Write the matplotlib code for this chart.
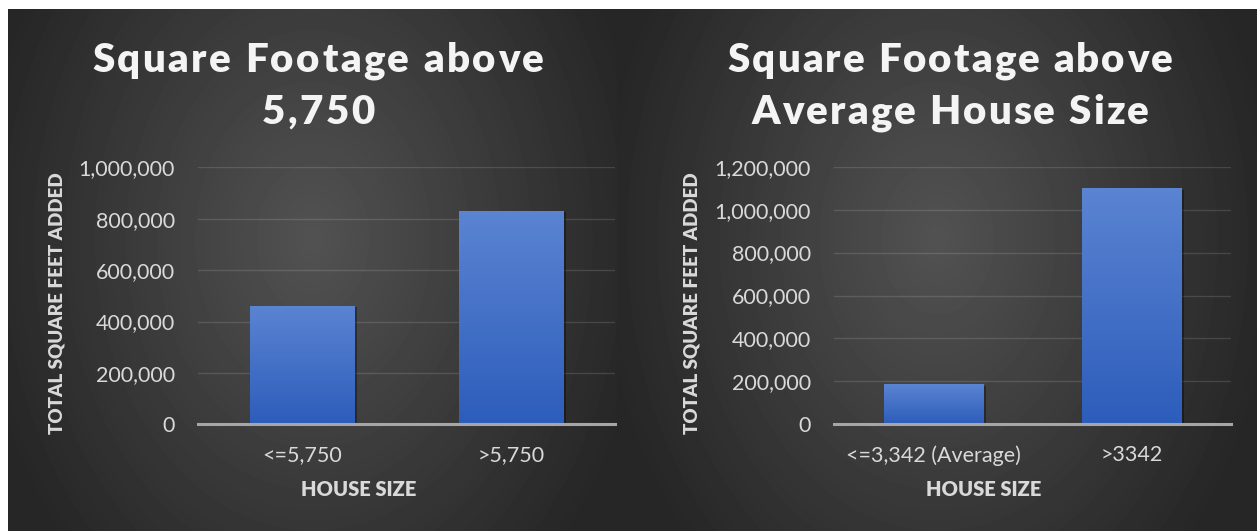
import numpy as np
import matplotlib
matplotlib.use("Agg")
import matplotlib.pyplot as plt
import matplotlib.patheffects as pe
from matplotlib import font_manager
from matplotlib.ft2font import FT2Font
from matplotlib.colors import LinearSegmentedColormap
from matplotlib.ticker import FuncFormatter

plt.rcParams['font.family'] = ['Lato', 'DejaVu Sans']

# 数据
left_cats = ['<=5,750', '>5,750']
left_vals = [460000, 830000]
left_ymax = 1000000
left_title = ['Square Footage above', '5,750']

right_cats = ['<=3,342 (Average)', '>3342']
right_vals = [186000, 1100000]
right_ymax = 1200000
right_title = ['Square Footage above', 'Average House Size']

y_label = 'TOTAL SQUARE FEET ADDED'
x_label = 'HOUSE SIZE'

W, H = 1259, 531
fig = plt.figure(figsize=(W / 100, H / 100), dpi=100)
fig.patch.set_facecolor('white')

bar_cmap = LinearSegmentedColormap.from_list('bar', ['#2d5dbb', '#5b84d2'])
title_fp = font_manager.FontProperties(family='Lato', weight='heavy', size=29)


def px_rect(x0, y0, x1, y1):
    # 像素坐标(左上为原点) -> figure 坐标
    return [x0 / W, 1 - y1 / H, (x1 - x0) / W, (y1 - y0) / H]


def panel_bg(x0, y0, x1, y1):
    # 径向渐变背景
    ax = fig.add_axes(px_rect(x0, y0, x1, y1))
    ax.set_axis_off()
    w, h = int(x1 - x0), int(y1 - y0)
    xx, yy = np.meshgrid(np.arange(w), np.arange(h))
    d = np.sqrt(((xx - w / 2) / 340) ** 2 + ((yy - h * 0.44) / 455) ** 2)
    t = np.clip(1 - d, 0, 1)
    c = (38 + t * (82 - 38)) / 255
    ax.imshow(c, cmap='gray', vmin=0, vmax=1, aspect='auto', interpolation='bilinear')


def advances(s):
    font = FT2Font(font_manager.findfont(title_fp))
    font.set_size(title_fp.get_size_in_points(), fig.dpi)
    return [font.load_char(ord(ch)).linearHoriAdvance / 65536 for ch in s]


def spaced_line(cx, base_y, s, track):
    # 标题字间距, matplotlib 没有 letter-spacing
    adv = advances(s)
    x = cx - (sum(adv) + track * (len(s) - 1)) / 2
    for ch, a in zip(s, adv):
        if ch != ' ':
            fig.text(x / W, 1 - base_y / H, ch, fontproperties=title_fp, color='#f4f4f4',
                     ha='left', va='baseline')
        x += a + track


def title_block(cx, lines, width):
    adv = advances(lines[0])
    track = (width - sum(adv)) / (len(lines[0]) - 1)
    spaced_line(cx, 72, lines[0], track)
    spaced_line(cx, 124, lines[1], track)


def draw_chart(rect, cats, vals, ymax):
    ax = fig.add_axes(rect)
    ax.set_facecolor('none')
    x = np.arange(len(cats))
    bars = ax.bar(x, vals, width=0.5, color='#4472c4', zorder=3)
    for b in bars:
        b.set_path_effects([pe.SimplePatchShadow(offset=(2, -1), shadow_rgbFace='black', alpha=0.35),
                            pe.Normal()])
        grad = np.linspace(0, 1, 256).reshape(-1, 1)
        im = ax.imshow(grad, cmap=bar_cmap, origin='lower', aspect='auto', zorder=3.2,
                       extent=[b.get_x(), b.get_x() + b.get_width(), 0, b.get_height()])
        im.set_clip_path(b)
    ax.set_xlim(-0.5, len(cats) - 0.5)
    ax.set_ylim(0, ymax)
    ax.set_xticks(x, cats)
    ax.set_yticks(np.arange(0, ymax + 1, 200000))
    ax.yaxis.set_major_formatter(FuncFormatter(lambda v, p: f'{v:,.0f}'))
    ax.grid(axis='y', color='white', alpha=0.13, lw=1)
    ax.set_axisbelow(True)
    for s in ['top', 'right', 'left']:
        ax.spines[s].set_visible(False)
    ax.spines['bottom'].set_color('#a6a6a6')
    ax.spines['bottom'].set_linewidth(2.2)
    ax.spines['bottom'].set_zorder(4)
    ax.tick_params(length=0, labelcolor='#d9d9d9', labelsize=15.5)
    ax.tick_params(axis='y', pad=16.5)
    ax.tick_params(axis='x', pad=15)
    return ax


panel_bg(8, 9, 617, 531)
panel_bg(617, 9, 1257, 531)

draw_chart(px_rect(198, 167.3, 615, 424.3), left_cats, left_vals, left_ymax)
draw_chart(px_rect(834, 166.7, 1231, 424.3), right_cats, right_vals, right_ymax)

# 标题
title_block(318, left_title, 452)
title_block(950, right_title, 445)

# 坐标轴标题
lab_kw = dict(fontweight='heavy', color='#d9d9d9', ha='center', va='center')
fig.text(57 / W, 1 - 303 / H, y_label, rotation=90, fontsize=13.5, **lab_kw)
fig.text(692 / W, 1 - 303 / H, y_label, rotation=90, fontsize=13.5, **lab_kw)
fig.text(359 / W, 1 - 489 / H, x_label, fontsize=14.5, **lab_kw)
fig.text(984 / W, 1 - 489 / H, x_label, fontsize=14.5, **lab_kw)

fig.savefig('out.png', dpi=100, facecolor=fig.get_facecolor())
